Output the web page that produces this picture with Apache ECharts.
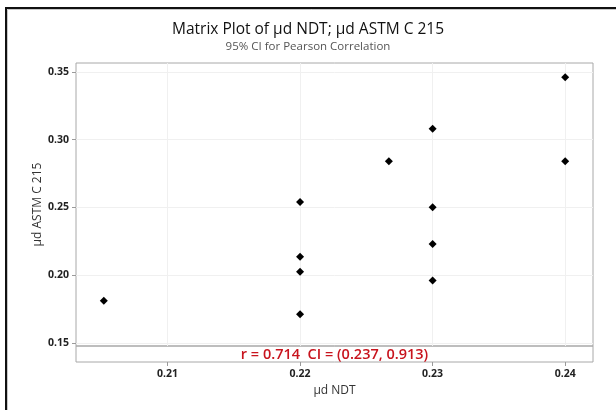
<!DOCTYPE html>
<html>
<head>
<meta charset="utf-8">
<script src="https://cdn.jsdelivr.net/npm/echarts@6/dist/echarts.min.js"></script>
<style>
  html, body { margin: 0; padding: 0; background: #fff; }
  #chart { width: 616px; height: 410px; }
</style>
</head>
<body>
<div id="chart"></div>
<script>
// µd NDT (x) against µd ASTM C 215 (y)
const ndt  = [0.2052, 0.2200, 0.2200, 0.2200, 0.2200, 0.2267, 0.2300, 0.2300, 0.2300, 0.2300, 0.2400, 0.2400];
const astm = [0.1810, 0.2540, 0.2135, 0.2025, 0.1710, 0.2840, 0.3080, 0.2500, 0.2230, 0.1960, 0.3460, 0.2840];

const xTicks = [0.21, 0.22, 0.23, 0.24];
const yTicks = [0.15, 0.20, 0.25, 0.30, 0.35];

const xRange = [0.2031, 0.2421];
const yRange = [0.1476, 0.3566];

const corrR  = 0.714;
const corrCI = [0.237, 0.913];

const FONT = '"Open Sans", "Noto Sans", sans-serif';
const GRID_L = 76, GRID_R = 23, GRID_T = 63, MAIN_H = 283, PANEL_H = 16;

const points = ndt.map((x, i) => [x, astm[i]]);
const fmt2 = v => v.toFixed(2);

const chart = echarts.init(document.getElementById('chart'), null, { renderer: 'canvas' });

chart.setOption({
  backgroundColor: '#fff',
  animation: false,
  title: [{
    text: 'Matrix Plot of µd NDT; µd ASTM C 215',
    subtext: '95% CI for Pearson Correlation',
    left: 'center',
    top: 17,
    itemGap: 3,
    textStyle: { fontFamily: FONT, fontSize: 15.5, fontWeight: 'normal', color: '#111' },
    subtextStyle: { fontFamily: FONT, fontSize: 11.5, color: '#555' }
  }],
  grid: [
    { left: GRID_L, right: GRID_R, top: GRID_T, height: MAIN_H,
      show: true, borderColor: '#a8a8a8', borderWidth: 1, backgroundColor: 'transparent' },
    { left: GRID_L, right: GRID_R, top: GRID_T + MAIN_H, height: PANEL_H,
      show: true, borderColor: '#a8a8a8', borderWidth: 1, backgroundColor: 'transparent' }
  ],
  xAxis: [
    {
      type: 'value', gridIndex: 0, min: xRange[0], max: xRange[1],
      axisLine: { show: false },
      axisTick: { show: false, customValues: xTicks },
      axisLabel: { show: false, customValues: xTicks },
      splitLine: { show: true, lineStyle: { color: '#f0f0f0', width: 1 } }
    },
    {
      type: 'value', gridIndex: 1, min: xRange[0], max: xRange[1],
      axisLine: { show: false },
      axisTick: { show: true, customValues: xTicks, length: 4, lineStyle: { color: '#9a9a9a' } },
      axisLabel: { show: true, customValues: xTicks, formatter: fmt2, margin: 7,
                   fontFamily: FONT, fontSize: 10.5, fontWeight: 'bold', color: '#222' },
      splitLine: { show: false },
      name: 'µd NDT', nameLocation: 'middle', nameGap: 23, nameMoveOverlap: false,
      nameTextStyle: { fontFamily: FONT, fontSize: 12, color: '#333' }
    }
  ],
  yAxis: [
    {
      type: 'value', gridIndex: 0, min: yRange[0], max: yRange[1],
      axisLine: { show: false },
      axisTick: { show: true, customValues: yTicks, length: 4, lineStyle: { color: '#9a9a9a' } },
      axisLabel: { show: true, customValues: yTicks, formatter: fmt2, margin: 7,
                   fontFamily: FONT, fontSize: 10.5, fontWeight: 'bold', color: '#222' },
      splitLine: { show: true, lineStyle: { color: '#f0f0f0', width: 1 } },
      name: 'µd ASTM C 215', nameLocation: 'middle', nameGap: 32, nameRotate: 90,
      nameMoveOverlap: false,
      nameTextStyle: { fontFamily: FONT, fontSize: 12, color: '#333' }
    },
    {
      type: 'value', gridIndex: 1, min: 0, max: 1, show: false
    }
  ],
  series: [{
    type: 'scatter',
    xAxisIndex: 0, yAxisIndex: 0,
    data: points,
    symbol: 'diamond',
    symbolSize: 8,
    itemStyle: { color: '#000', opacity: 1 }
  }],
  graphic: [
    {
      type: 'text',
      x: GRID_L + (616 - GRID_L - GRID_R) / 2,
      y: GRID_T + MAIN_H + PANEL_H / 2 + 1,
      style: {
        text: 'r = ' + corrR.toFixed(3) + '  CI = (' + corrCI[0].toFixed(3) + ', ' + corrCI[1].toFixed(3) + ')',
        fontFamily: FONT, fontSize: 14.5, fontWeight: 600,
        fill: '#c8141e', align: 'center', verticalAlign: 'middle'
      }
    },
    // page frame
    {
      type: 'polyline',
      shape: { points: [[7.5, 410], [7.5, 9.5], [616, 9.5]] },
      style: { stroke: '#c8c8c8', lineWidth: 1, fill: null }
    },
    {
      type: 'polyline',
      shape: { points: [[6, 410], [6, 8], [616, 8]] },
      style: { stroke: '#111', lineWidth: 2, fill: null }
    }
  ]
});
</script>
</body>
</html>
